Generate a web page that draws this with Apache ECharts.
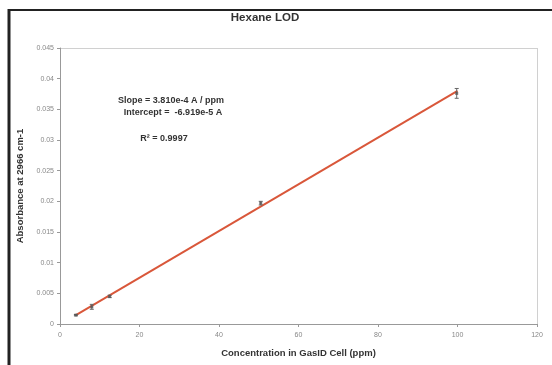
<!DOCTYPE html>
<html>
<head>
<meta charset="utf-8">
<script src="https://cdn.jsdelivr.net/npm/echarts@6/dist/echarts.min.js"></script>
<style>
  html, body { margin: 0; padding: 0; background: #fff; }
  #chart { width: 552px; height: 365px; }
</style>
</head>
<body>
<div id="chart"></div>
<script>
// measured points (ppm, absorbance) with error bar half-widths
const concPpm = [4, 8, 12.5, 50.5, 99.8];
const absorbance = [0.00145, 0.0028, 0.0045, 0.0197, 0.0376];
const absErr = [0.0001, 0.0004, 0.0002, 0.0003, 0.0008];

// trend line end points
const trendX = [4, 100];
const trendY = [0.00145, 0.0380];

const xTicks = [0, 20, 40, 60, 80, 100, 120];

const chart = echarts.init(document.getElementById('chart'));

const points = concPpm.map((x, i) => [x, absorbance[i]]);
const errData = concPpm.map((x, i) => [x, absorbance[i] - absErr[i], absorbance[i] + absErr[i]]);
const trend = trendX.map((x, i) => [x, trendY[i]]);

const font = 'Liberation Sans, Arial, sans-serif';

const option = {
  animation: false,
  backgroundColor: '#fff',
  grid: { left: 60, right: 15, top: 48, bottom: 41 },
  xAxis: {
    type: 'value',
    min: xTicks[0],
    max: xTicks[xTicks.length - 1],
    interval: 20,
    name: 'Concentration in GasID Cell (ppm)',
    nameLocation: 'middle',
    nameGap: 24,
    nameTextStyle: { fontFamily: font, fontSize: 9.5, fontWeight: 'bold', color: '#333' },
    axisLine: { lineStyle: { color: '#999', width: 1 } },
    axisTick: { show: true, length: 3, lineStyle: { color: '#999' } },
    axisLabel: { fontFamily: font, fontSize: 7, color: '#888', margin: 8 },
    splitLine: { show: false }
  },
  yAxis: {
    type: 'value',
    min: 0,
    max: 0.045,
    interval: 0.005,
    name: 'Absorbance at 2966 cm-1',
    nameLocation: 'middle',
    nameGap: 27,
    nameTextStyle: { fontFamily: font, fontSize: 9.5, fontWeight: 'bold', color: '#333' },
    axisLine: { show: true, lineStyle: { color: '#999', width: 1 } },
    axisTick: { show: true, length: 3, lineStyle: { color: '#999' } },
    axisLabel: { fontFamily: font, fontSize: 7, color: '#888', margin: 6 },
    splitLine: { show: false }
  },
  graphic: [
    // outer frame (top + left)
    { type: 'line', shape: { x1: 9, y1: 10, x2: 552, y2: 10 }, style: { stroke: '#222', lineWidth: 2 } },
    { type: 'line', shape: { x1: 9, y1: 9, x2: 9, y2: 365 }, style: { stroke: '#222', lineWidth: 3 } },
    // plot box top + right
    { type: 'line', shape: { x1: 60, y1: 48.5, x2: 537.5, y2: 48.5 }, style: { stroke: '#d0d0d0', lineWidth: 1 } },
    { type: 'line', shape: { x1: 537.5, y1: 48, x2: 537.5, y2: 324 }, style: { stroke: '#d0d0d0', lineWidth: 1 } },
    {
      type: 'text', x: 265, y: 18,
      style: {
        text: 'Hexane LOD', fontFamily: font, fontSize: 11.5, fontWeight: 'bold', fill: '#333',
        align: 'center', verticalAlign: 'middle'
      }
    },
    {
      type: 'text', x: 171, y: 101,
      style: {
        text: 'Slope = 3.810e-4 A / ppm', fontFamily: font, fontSize: 9, fontWeight: 'bold', fill: '#333',
        align: 'center', verticalAlign: 'middle'
      }
    },
    {
      type: 'text', x: 173, y: 113,
      style: {
        text: 'Intercept =  -6.919e-5 A', fontFamily: font, fontSize: 9, fontWeight: 'bold', fill: '#333',
        align: 'center', verticalAlign: 'middle'
      }
    },
    {
      type: 'text', x: 164, y: 139,
      style: {
        text: 'R\u00b2 = 0.9997', fontFamily: font, fontSize: 9, fontWeight: 'bold', fill: '#333',
        align: 'center', verticalAlign: 'middle'
      }
    }
  ],
  series: [
    {
      name: 'fit',
      type: 'line',
      data: trend,
      showSymbol: false,
      lineStyle: { color: '#d9573a', width: 2 },
      z: 2
    },
    {
      name: 'error',
      type: 'custom',
      data: errData,
      renderItem: (params, api) => {
        const x = api.value(0);
        const lo = api.coord([x, api.value(1)]);
        const hi = api.coord([x, api.value(2)]);
        const cap = 2;
        const style = { stroke: '#666', lineWidth: 1 };
        return {
          type: 'group',
          children: [
            { type: 'line', shape: { x1: lo[0], y1: lo[1], x2: hi[0], y2: hi[1] }, style },
            { type: 'line', shape: { x1: lo[0] - cap, y1: lo[1], x2: lo[0] + cap, y2: lo[1] }, style },
            { type: 'line', shape: { x1: hi[0] - cap, y1: hi[1], x2: hi[0] + cap, y2: hi[1] }, style }
          ]
        };
      },
      z: 3
    },
    {
      name: 'data',
      type: 'scatter',
      data: points,
      symbol: 'rect',
      symbolSize: 3,
      itemStyle: { color: '#555' },
      z: 4
    }
  ]
};

chart.setOption(option);
window.addEventListener('resize', () => chart.resize());
</script>
</body>
</html>
